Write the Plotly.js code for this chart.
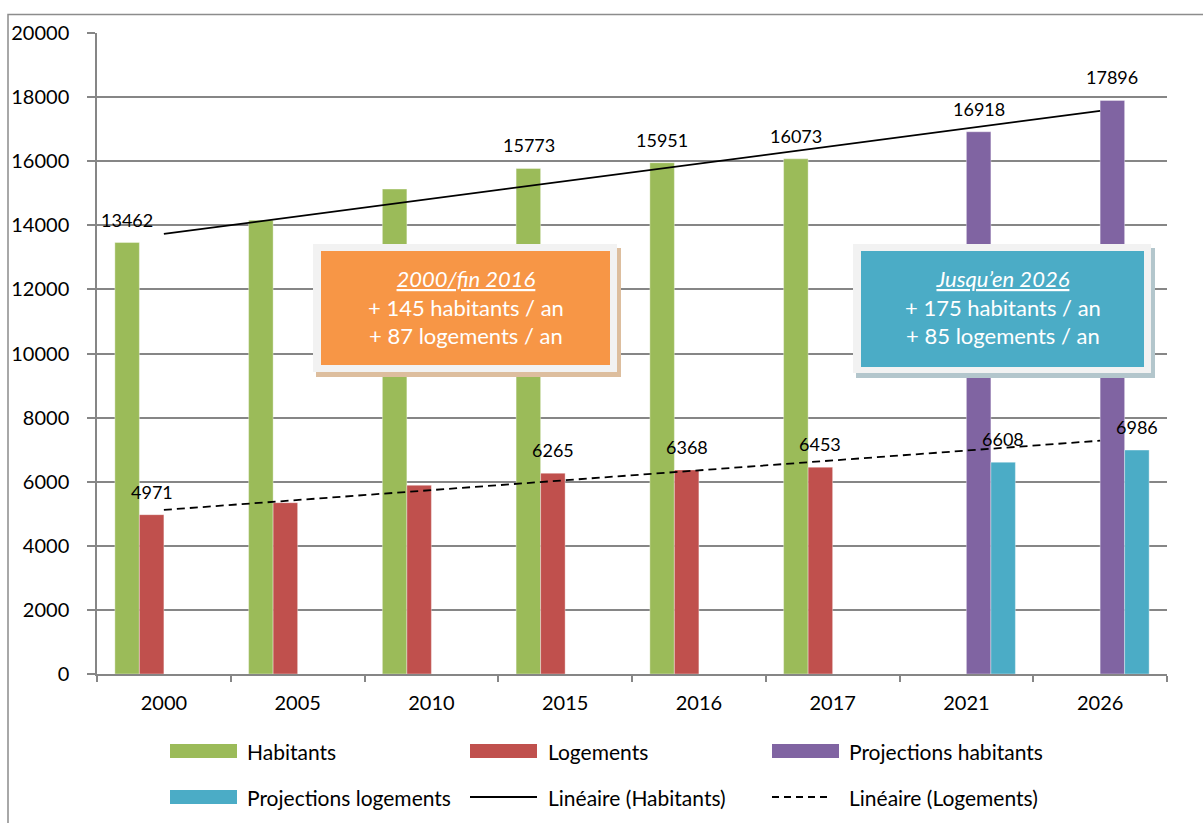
<!DOCTYPE html>
<html>
<head>
<meta charset="utf-8">
<script src="https://cdn.plot.ly/plotly-3.0.1.min.js"></script>
<style>
  html, body { margin: 0; padding: 0; background: #ffffff; }
  #chart { width: 1203px; height: 823px; }
</style>
</head>
<body>
<div id="chart"></div>
<script>
// ---- data ----
const categories = ['2000', '2005', '2010', '2015', '2016', '2017', '2021', '2026'];
const habitants = [13462, 14160, 15130, 15773, 15951, 16073, null, null];
const logements = [4971, 5345, 5888, 6265, 6368, 6453, null, null];
const projHabitants = [null, null, null, null, null, null, 16918, 17896];
const projLogements = [null, null, null, null, null, null, 6608, 6986];
// which bars carry a value label (as in the original)
const labelHabitants = [true, false, false, true, true, true, false, false];
const labelLogements = [true, false, false, true, true, true, false, false];
const labelProjHab = [false, false, false, false, false, false, true, true];
const labelProjLog = [false, false, false, false, false, false, true, true];
// linear trend lines (end points)
const trendX = ['2000', '2026'];
const trendHabitants = [13730, 17570];
const trendLogements = [5120, 7280];
const seriesNames = ['Habitants', 'Logements', 'Projections habitants',
  'Projections logements', 'Linéaire (Habitants)', 'Linéaire (Logements)'];
const yTicks = [0, 2000, 4000, 6000, 8000, 10000, 12000, 14000, 16000, 18000, 20000];
const box1Text = ['2000/fin 2016', '+ 145 habitants / an', '+ 87 logements / an'];
const box2Text = ['Jusqu’en 2026', '+ 175 habitants / an', '+ 85 logements / an'];

// ---- style ----
const colors = ['#9BBB59', '#C0504D', '#8064A2', '#4BACC6'];
const FONT = 'Lato, "Open Sans", sans-serif';
const DASH = '8px,5px';
const W = 1203, H = 823;
const M = { l: 97, r: 36, t: 33, b: 149 };
const PW = W - M.l - M.r, PH = H - M.t - M.b;
const px = x => (x - M.l) / PW;
const py = y => (H - M.b - y) / PH;

const barSeries = [habitants, logements, projHabitants, projLogements];
const labelFlags = [labelHabitants, labelLogements, labelProjHab, labelProjLog];

const traces = barSeries.map((vals, i) => ({
  type: 'bar', x: categories, y: vals, name: seriesNames[i],
  marker: { color: colors[i], line: { width: 0.6, color: 'rgba(255,255,255,0.6)' } },
  showlegend: false, hoverinfo: 'x+y+name'
}));
traces.push({
  type: 'scatter', mode: 'lines', x: trendX, y: trendHabitants, name: seriesNames[4],
  line: { color: '#000000', width: 1.8 }, showlegend: false
});
traces.push({
  type: 'scatter', mode: 'lines', x: trendX, y: trendLogements, name: seriesNames[5],
  line: { color: '#000000', width: 1.8, dash: DASH }, showlegend: false
});

// value labels on bars (x = category index on the category axis)
const annotations = [];
const slotOffsets = [-36.6, -12.2, 12.2, 36.6];
barSeries.forEach((vals, i) => {
  vals.forEach((v, j) => {
    if (v !== null && labelFlags[i][j]) {
      annotations.push({
        x: j, y: v, xref: 'x', yref: 'y', text: String(v),
        showarrow: false, xshift: slotOffsets[i], yshift: 23,
        xanchor: 'center', yanchor: 'middle',
        font: { family: FONT, size: 18, color: '#000000' }
      });
    }
  });
});

// text boxes
function boxText(lines) {
  return '<i><u>' + lines[0] + '</u></i><br>' + lines[1] + '<br>' + lines[2];
}
annotations.push({
  xref: 'paper', yref: 'paper', x: px(465.5), y: py(306.5), text: boxText(box1Text),
  showarrow: false, xanchor: 'center', yanchor: 'middle', align: 'center',
  font: { family: FONT, size: 22, color: '#FFFFFF' }
});
annotations.push({
  xref: 'paper', yref: 'paper', x: px(1002.5), y: py(306.5), text: boxText(box2Text),
  showarrow: false, xanchor: 'center', yanchor: 'middle', align: 'center',
  font: { family: FONT, size: 22, color: '#FFFFFF' }
});

const shapes = [];
function rectPx(x0, y0, x1, y1, fill, line) {
  shapes.push({
    type: 'rect', xref: 'paper', yref: 'paper', layer: 'above',
    x0: px(x0), x1: px(x1), y0: py(y1), y1: py(y0),
    fillcolor: fill, line: line || { width: 0 }
  });
}
// orange box (shadow, frame, body)
rectPx(316, 248, 621, 377, '#DDBE9E');
rectPx(313, 244, 617, 372, '#F2F2F2');
rectPx(321, 251, 610, 365, '#F79646');
// cyan box
rectPx(856, 248, 1155, 378, '#B3C6CC');
rectPx(853, 244, 1151, 373, '#F2F2F2');
rectPx(861, 251, 1144, 367, '#4BACC6');

// outer chart frame
shapes.push({
  type: 'rect', xref: 'paper', yref: 'paper', layer: 'below',
  x0: px(8), x1: px(1215), y0: py(840), y1: py(14.5),
  fillcolor: 'rgba(0,0,0,0)', line: { color: '#8C8C8C', width: 1.5 }
});

// custom legend
const legendItems = [
  { kind: 'bar', color: colors[0], x: 170, y: 751, tx: 245, name: seriesNames[0] },
  { kind: 'bar', color: colors[1], x: 470, y: 751, tx: 546, name: seriesNames[1] },
  { kind: 'bar', color: colors[2], x: 772, y: 751, tx: 847, name: seriesNames[2] },
  { kind: 'bar', color: colors[3], x: 170, y: 797, tx: 245, name: seriesNames[3] },
  { kind: 'line', dash: 'solid', x: 470, y: 797, tx: 546, name: seriesNames[4] },
  { kind: 'line', dash: '7px,5px', x: 772, y: 797, tx: 847, name: seriesNames[5] }
];
legendItems.forEach(it => {
  if (it.kind === 'bar') {
    rectPx(it.x, it.y - 7, it.x + 67, it.y + 7, it.color);
  } else {
    shapes.push({
      type: 'line', xref: 'paper', yref: 'paper', layer: 'above',
      x0: px(it.x), x1: px(it.dash === 'solid' ? it.x + 67 : it.x + 60),
      y0: py(it.y), y1: py(it.y),
      line: { color: '#000000', width: 1.8, dash: it.dash }
    });
  }
  annotations.push({
    xref: 'paper', yref: 'paper', x: px(it.tx), y: py(it.y), text: it.name,
    showarrow: false, xanchor: 'left', yanchor: 'middle',
    font: { family: FONT, size: 21, color: '#000000' }
  });
});

const layout = {
  width: W, height: H,
  margin: M,
  paper_bgcolor: '#FFFFFF', plot_bgcolor: '#FFFFFF',
  font: { family: FONT, size: 20, color: '#000000' },
  barmode: 'group', bargap: 0.267, bargroupgap: 0,
  showlegend: false,
  xaxis: {
    type: 'category', categoryorder: 'array', categoryarray: categories,
    range: [-0.5, categories.length - 0.5], autorange: false,
    showline: true, linecolor: '#868686', linewidth: 1.5,
    ticks: 'outside', tickson: 'boundaries', ticklen: 6, tickcolor: '#868686', tickwidth: 1.5,
    showgrid: false, zeroline: false, tickangle: 0,
    tickfont: { family: FONT, size: 20, color: '#000000' },
    ticklabelstandoff: 10
  },
  yaxis: {
    range: [0, 20000], autorange: false, tickmode: 'array', tickvals: yTicks, ticktext: yTicks.map(String),
    showline: true, linecolor: '#868686', linewidth: 1.5,
    ticks: 'outside', ticklen: 8, tickcolor: '#868686', tickwidth: 1.5,
    showgrid: true, gridcolor: '#868686', gridwidth: 1.5, zeroline: false,
    tickfont: { family: FONT, size: 20, color: '#000000' },
    ticklabelstandoff: 14
  },
  shapes: shapes,
  annotations: annotations
};

Plotly.newPlot('chart', traces, layout, { displayModeBar: false, staticPlot: false });
</script>
</body>
</html>
